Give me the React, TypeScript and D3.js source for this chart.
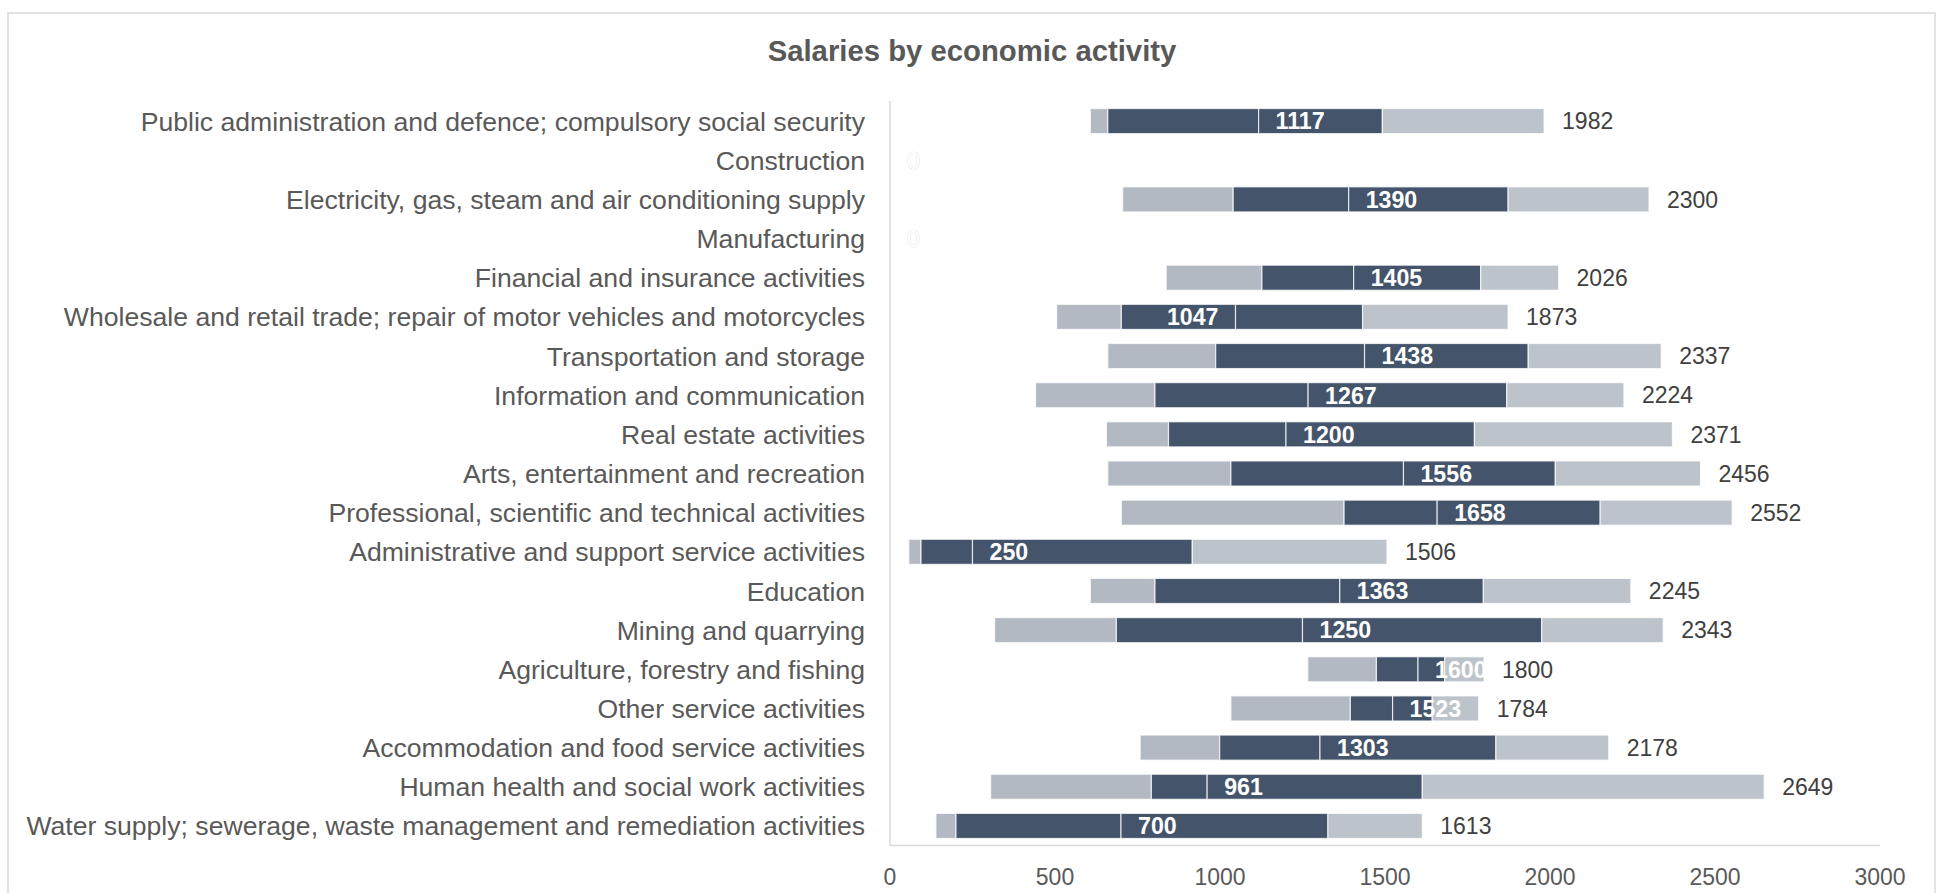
import * as d3 from "d3";

const categories = [
  "Public administration and defence; compulsory social security",
  "Construction",
  "Electricity, gas, steam and air conditioning supply",
  "Manufacturing",
  "Financial and insurance activities",
  "Wholesale and retail trade; repair of motor vehicles and motorcycles",
  "Transportation and storage",
  "Information and communication",
  "Real estate activities",
  "Arts, entertainment and recreation",
  "Professional, scientific and technical activities",
  "Administrative and support service activities",
  "Education",
  "Mining and quarrying",
  "Agriculture, forestry and fishing",
  "Other service activities",
  "Accommodation and food service activities",
  "Human health and social work activities",
  "Water supply; sewerage, waste management and remediation activities",
];

const minVals = [607, 0, 705, 0, 837, 505, 660, 441, 656, 660, 701, 57, 607, 317, 1266, 1033, 758, 305, 139];
const q1Vals = [660, 0, 1040, 0, 1127, 701, 987, 803, 844, 1033, 1376, 94, 803, 686, 1474, 1395, 999, 792, 200];
const medianVals = [1117, 0, 1390, 0, 1405, 1047, 1438, 1267, 1200, 1556, 1658, 250, 1363, 1250, 1600, 1523, 1303, 961, 700];
const q3Vals = [1492, 0, 1873, 0, 1790, 1432, 1934, 1869, 1771, 2016, 2152, 916, 1798, 1975, 1681, 1643, 1836, 1613, 1327];
const maxVals = [1982, 0, 2300, 0, 2026, 1873, 2337, 2224, 2371, 2456, 2552, 1506, 2245, 2343, 1800, 1784, 2178, 2649, 1613];

// the median label sits before the median line for this one row
const labelBeforeMedian = ["Wholesale and retail trade; repair of motor vehicles and motorcycles"];

const xTicks = [0, 500, 1000, 1500, 2000, 2500, 3000];

const W = 1946;
const H = 893;
const FONT = "'Liberation Sans', Arial, sans-serif";
const DARK = "#44546a";
const LIGHT_L = "#b3b9c3";
const LIGHT_R = "#bdc3cb";
const AXIS = "#d9d9d9";

export default function App() {
  const x = d3.scaleLinear().domain([0, 3000]).range([890, 1880]);
  const y = d3
    .scaleBand<string>()
    .domain(categories)
    .range([101.5, 845.5])
    .paddingInner(0.36)
    .paddingOuter(0.18);
  const bw = y.bandwidth();
  const pad = 17;

  return (
    <svg
      width={W}
      height={H}
      style={{ position: "absolute", left: 0, top: 0, background: "#fff" }}
      fontFamily={FONT}
    >
      <rect x={8} y={13} width={1927} height={900} fill="#fff" stroke={AXIS} strokeWidth={1.5} />

      <text x={972} y={61} textAnchor="middle" fontSize={29.3} fontWeight="bold" fill="#595959">
        Salaries by economic activity
      </text>

      {/* axes */}
      <line x1={x(0)} x2={x(0)} y1={101} y2={845.5} stroke={AXIS} strokeWidth={1.5} />
      <line x1={x(0)} x2={x(3000)} y1={845.5} y2={845.5} stroke={AXIS} strokeWidth={1.5} />
      {xTicks.map((t) => (
        <text key={t} x={x(t)} y={884.5} textAnchor="middle" fontSize={23} fill="#595959">
          {t}
        </text>
      ))}

      {categories.map((c, i) => {
        const cy = (y(c) ?? 0) + bw / 2;
        const top = y(c) ?? 0;
        const segs = [
          { a: minVals[i], b: q1Vals[i], fill: LIGHT_L },
          { a: q1Vals[i], b: medianVals[i], fill: DARK },
          { a: medianVals[i], b: q3Vals[i], fill: DARK },
          { a: q3Vals[i], b: maxVals[i], fill: LIGHT_R },
        ];
        const before = labelBeforeMedian.includes(c);
        const isZero = maxVals[i] === 0;
        return (
          <g key={c}>
            <text x={865} y={cy} dy="0.36em" textAnchor="end" fontSize={26.6} fill="#595959">
              {c}
            </text>
            {segs.map((s, k) =>
              s.b > s.a ? (
                <rect
                  key={k}
                  x={x(s.a)}
                  y={top}
                  width={x(s.b) - x(s.a)}
                  height={bw}
                  fill={s.fill}
                  stroke="#fff"
                  strokeOpacity={0.75}
                  strokeWidth={1.2}
                />
              ) : null
            )}
            <text
              x={before ? x(medianVals[i]) - pad : x(medianVals[i]) + pad}
              y={cy}
              dy="0.36em"
              textAnchor={before ? "end" : "start"}
              fontSize={23.2}
              fontWeight={isZero ? "normal" : "bold"}
              fill="#fff"
              stroke={isZero ? "#d4d4d4" : "none"}
              strokeWidth={isZero ? 0.6 : 0}
              paintOrder="stroke"
            >
              {medianVals[i]}
            </text>
            {!isZero && (
              <text x={x(maxVals[i]) + 18} y={cy} dy="0.36em" fontSize={23} fill="#404040">
                {maxVals[i]}
              </text>
            )}
          </g>
        );
      })}
    </svg>
  );
}
